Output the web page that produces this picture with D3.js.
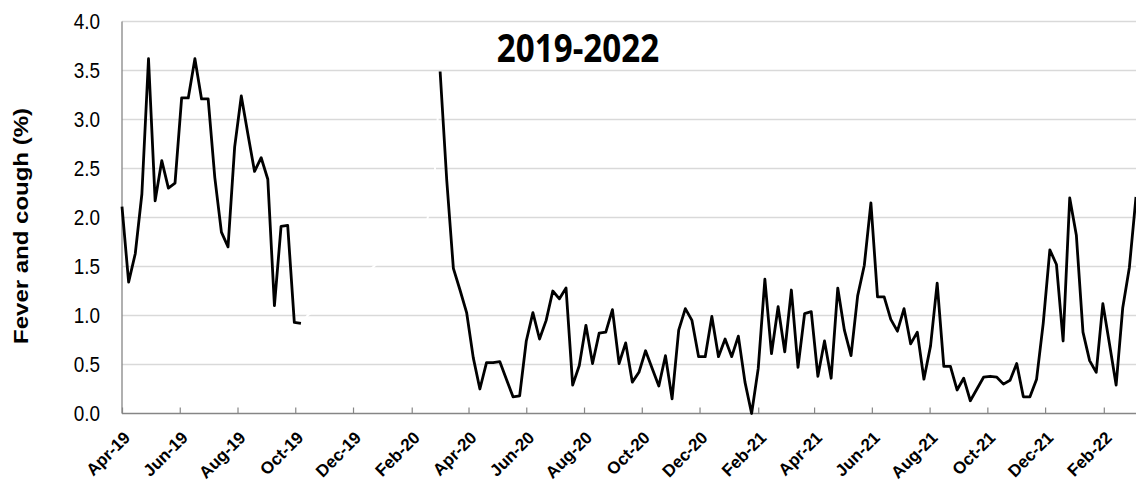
<!DOCTYPE html>
<html><head><meta charset="utf-8">
<script src="https://cdn.jsdelivr.net/npm/d3@7"></script>
<style>body{margin:0;background:#fff;overflow:hidden}</style>
</head><body>
<svg id="c" width="1136" height="482"></svg>
<script>
// ---- data ----
const startDate = "2019-04-01"; // first weekly observation
const seriesValues = [
  2.11,1.34,1.63,2.24,3.62,2.17,2.58,2.30,2.35,3.22,3.22,3.62,3.21,3.21,2.41,1.85,1.70,2.72,3.24,2.85,
  2.47,2.61,2.39,1.10,1.91,1.92,0.93,0.92,
  null,null,null,null,null,null,null,null,null,null,null,null,null,null,null,null,null,null,null,null,
  3.49,2.38,1.48,1.26,1.03,0.57,0.25,0.52,0.52,0.53,0.35,0.17,0.18,0.74,1.03,0.76,0.95,1.25,1.17,1.28,
  0.29,0.49,0.90,0.51,0.82,0.83,1.06,0.51,0.72,0.32,0.42,0.64,
  0.46,0.28,0.59,0.15,0.85,1.07,0.95,0.58,0.58,0.99,0.58,0.76,0.58,0.79,0.32,0.00,0.46,1.37,0.61,1.09,
  0.63,1.26,0.47,1.02,1.04,0.38,0.74,0.36,1.28,0.85,0.59,1.20,1.51,2.15,1.19,1.19,0.96,0.84,1.07,0.71,
  0.83,0.35,0.69,1.33,0.48,0.48,0.24,0.36,0.13,0.25,0.37,0.38,0.37,0.30,0.34,0.51,0.17,0.17,0.35,0.92,
  1.67,1.52,0.74,2.20,1.82,0.83,0.54,0.42,1.12,0.71,0.29,1.08,1.49,2.21
];
// faint white (hidden) series bridging the gap, visible only where it cuts gridlines
const gapWeeks  = [27, 28, 38, 46, 47, 48];
const gapValues = [0.92, 1.00, 1.50, 1.97, 2.20, 3.49];
const yTicks = [0,0.5,1.0,1.5,2.0,2.5,3.0,3.5,4.0];
const xTickLabels = ["Apr-19","Jun-19","Aug-19","Oct-19","Dec-19","Feb-20","Apr-20","Jun-20","Aug-20",
  "Oct-20","Dec-20","Feb-21","Apr-21","Jun-21","Aug-21","Oct-21","Dec-21","Feb-22"];
const titleText = "2019-2022";
const yTitleText = "Fever and cough (%)";

// ---- build ----
const svg = d3.select("#c");
const W = 1136, H = 482;
const m = {left:122, right:1136, top:21.5, bottom:413.5};
const SX = 0.86; // horizontal squeeze of text glyphs seen in the reference

const t0 = d3.timeParse("%Y-%m-%d")(startDate);
const data = seriesValues.map((v,i)=>({date:d3.timeDay.offset(t0, 7*i), v}));
const gapData = gapWeeks.map((w,i)=>({date:d3.timeDay.offset(t0, 7*w), v:gapValues[i]}));
const tickDates = xTickLabels.map(s=>d3.timeParse("%b-%y")(s));

const x = d3.scaleTime().domain([data[0].date, data[data.length-1].date]).range([m.left, m.right]);
const y = d3.scaleLinear().domain([0,4]).range([m.bottom, m.top]);

// gridlines
svg.append("g").selectAll("line").data(yTicks.filter(d=>d>0)).join("line")
  .attr("x1", m.left).attr("x2", W)
  .attr("y1", d=>y(d)).attr("y2", d=>y(d))
  .attr("stroke", "#d9d9d9").attr("stroke-width", 1.3);

// hidden white series
const line = d3.line().defined(d=>d.v!=null).x(d=>x(d.date)).y(d=>y(d.v));
svg.append("path").datum(gapData).attr("d", line)
  .attr("fill","none").attr("stroke","#fff").attr("stroke-width",2);

// y axis line
svg.append("line").attr("x1", m.left).attr("x2", m.left).attr("y1", m.top).attr("y2", m.bottom)
  .attr("stroke","#868686").attr("stroke-width",1.3);

// x axis via d3
const xAxis = d3.axisBottom(x).tickValues(tickDates).tickSize(-6).tickFormat("");
const gx = svg.append("g").attr("transform", `translate(0,${m.bottom})`).call(xAxis);
gx.select(".domain").attr("d", `M${m.left},0H${W}`).attr("stroke","#868686").attr("stroke-width",1.3);
gx.selectAll(".tick line").attr("stroke","#868686").attr("stroke-width",1.2);

// x labels (rotated)
svg.append("g").selectAll("text").data(tickDates).join("text")
  .attr("transform", d=>`translate(${x(d)+5},${m.bottom+21}) rotate(-45)`)
  .attr("text-anchor","end").attr("dy","0.35em")
  .attr("font-family","'Liberation Sans', Arial, sans-serif").attr("font-size",17)
  .attr("font-weight",700)
  .attr("fill","#000")
  .text((d,i)=>xTickLabels[i]);

// y labels
svg.append("g").selectAll("text").data(yTicks).join("text")
  .attr("transform", d=>`translate(100,${y(d)}) scale(${SX},1)`)
  .attr("text-anchor","end").attr("dy","0.36em")
  .attr("font-family","'Liberation Sans', Arial, sans-serif").attr("font-size",22)
  .attr("fill","#000")
  .text(d=>d.toFixed(1));

// main line
svg.append("path").datum(data).attr("d", line)
  .attr("fill","none").attr("stroke","#000").attr("stroke-width",2.8)
  .attr("stroke-linejoin","round");

// title
svg.append("text")
  .attr("transform", `translate(578,61.5) scale(0.85,1)`)
  .attr("text-anchor","middle")
  .attr("font-family","'Open Sans', sans-serif").attr("font-weight",700).attr("font-size",39)
  .text(titleText);

// y title
svg.append("text")
  .attr("transform", `translate(28,226) scale(${SX},1) rotate(-90)`)
  .attr("text-anchor","middle")
  .attr("font-family","'Liberation Sans', Arial, sans-serif").attr("font-weight",700).attr("font-size",24)
  .text(yTitleText);
</script>
</body></html>
